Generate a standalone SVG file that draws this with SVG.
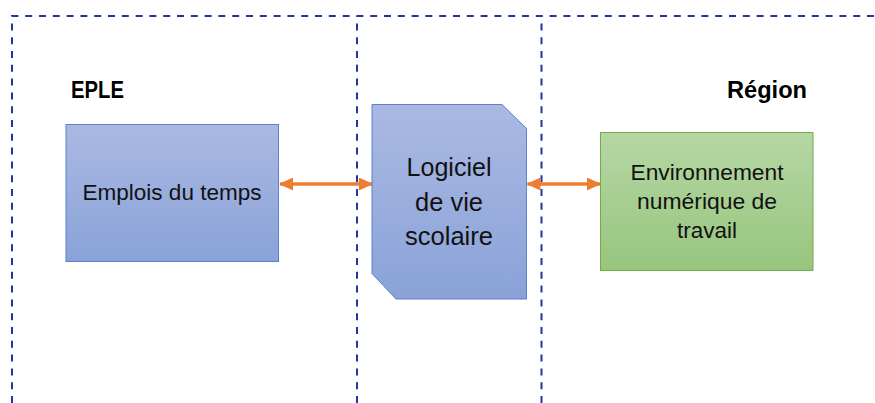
<svg xmlns="http://www.w3.org/2000/svg" width="875" height="403" viewBox="0 0 875 403">
<style>
.dash{fill:none;stroke:#2136a3;stroke-width:2;stroke-dasharray:7 6.8}
.blue{fill:url(#gb);stroke:#5b80cc;stroke-width:1}
.green{fill:url(#gg);stroke:#70ad47;stroke-width:1}
.t{font-family:"Liberation Sans",Arial,sans-serif;fill:#111;text-anchor:middle}
.lbl{font-family:"Liberation Sans",Arial,sans-serif;font-weight:bold;font-size:23.5px;fill:#000}
.arr{stroke:#ed7d31;stroke-width:3.5;fill:none;marker-start:url(#ah);marker-end:url(#ah)}
</style>
<defs>
<linearGradient id="gb" x1="0" y1="0" x2="0" y2="1"><stop offset="0" stop-color="#aab9e2"/><stop offset="1" stop-color="#8aa2d9"/></linearGradient>
<linearGradient id="gg" x1="0" y1="0" x2="0" y2="1"><stop offset="0" stop-color="#b6d7a5"/><stop offset="1" stop-color="#97c57d"/></linearGradient>
<marker id="ah" viewBox="0 0 14 13" refX="13" refY="6.5" markerWidth="14" markerHeight="13" markerUnits="userSpaceOnUse" orient="auto-start-reverse"><path d="M0,0 L14,6.5 L0,13 Z" fill="#ed7d31"/></marker>
</defs>
<g id="frame">
<path class="dash" d="M12,403 V16 H875"/>
<path class="dash" d="M357,403 V16"/>
<path class="dash" d="M541.5,403 V23"/>
</g>
<g id="labels">
<text class="lbl" x="71" y="98" textLength="53" lengthAdjust="spacingAndGlyphs">EPLE</text>
<text class="lbl" x="727" y="98" textLength="80" lengthAdjust="spacingAndGlyphs">Région</text>
</g>
<g id="connectors">
<path class="arr" d="M280,184 H372"/>
<path class="arr" d="M527.5,184 H600"/>
</g>
<g id="emplois">
<rect class="blue" x="66" y="124.5" width="212.5" height="137"/>
<text class="t" x="172" y="200" font-size="22.5" textLength="179" lengthAdjust="spacingAndGlyphs">Emplois du temps</text>
</g>
<g id="logiciel">
<path class="blue" d="M372,104.5 H502 L526.5,128.5 V299 H396 L372,273.5 Z"/>
<text class="t" x="449" y="176" font-size="25.5" textLength="85" lengthAdjust="spacingAndGlyphs">Logiciel</text>
<text class="t" x="449" y="211" font-size="25.5" textLength="68" lengthAdjust="spacingAndGlyphs">de vie</text>
<text class="t" x="449" y="245" font-size="25.5" textLength="88" lengthAdjust="spacingAndGlyphs">scolaire</text>
</g>
<g id="ent">
<rect class="green" x="600.5" y="132.5" width="212.5" height="138"/>
<text class="t" x="707" y="180" font-size="22.5" textLength="153" lengthAdjust="spacingAndGlyphs">Environnement</text>
<text class="t" x="707" y="209" font-size="22.5" textLength="140" lengthAdjust="spacingAndGlyphs">numérique de</text>
<text class="t" x="707" y="238" font-size="22.5" textLength="60" lengthAdjust="spacingAndGlyphs">travail</text>
</g>
</svg>
